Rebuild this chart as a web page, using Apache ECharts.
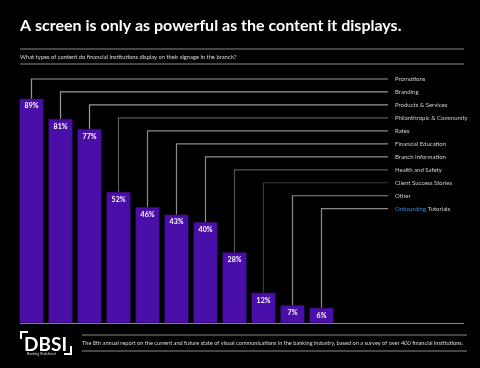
<!DOCTYPE html>
<html><head><meta charset="utf-8">
<script src="https://cdn.jsdelivr.net/npm/echarts@6/dist/echarts.min.js"></script>
<style>html,body{margin:0;padding:0;background:#000;}#c{width:480px;height:368px;}</style>
</head><body><div id="c"></div>
<script>
var categories = ['Promotions','Branding','Products & Services','Philanthropic & Community','Rates','Financial Education','Branch Information','Health and Safety','Client Success Stories','Other','Onboarding Tutorials'];
var values = [89,81,77,52,46,43,40,28,12,7,6];
var title = 'A screen is only as powerful as the content it displays.';
var subtitle = 'What types of content do financial institutions display on their signage in the branch?';
var footnote = 'The 8th annual report on the current and future state of visual communications in the banking industry, based on a survey of over 400 financial institutions.';

var lineShades = ['#9a9a9a','#9a9a9a','#9a9a9a','#5a5a5a','#8a8a8a','#8a8a8a','#8a8a8a','#555','#3a3a3a','#8a8a8a','#8a8a8a'];
var chart = echarts.init(document.getElementById('c'));
var FONT = 'Lato, "Open Sans", sans-serif';

chart.setOption({
  backgroundColor: '#000',
  animation: false,
  grid: {left: 17, right: 144, top: 71, bottom: 45},
  xAxis: {type: 'category', data: categories, axisLine: {show: false}, axisTick: {show: false}, axisLabel: {show: false}},
  yAxis: {type: 'value', min: 0, max: 100, show: false, splitLine: {show: false}},
  series: [
    {
      type: 'custom',
      z: 1,
      clip: false,
      data: values.map(function (v, i) { return [i, v]; }),
      renderItem: function (params, api) {
        var i = params.dataIndex;
        var top = api.coord([api.value(0), api.value(1)]);
        var ly = 79 + i * 12.97;
        var isLast = i === categories.length - 1;
        return {
          type: 'group',
          children: [
            {type: 'polyline', shape: {points: [[top[0], top[1]], [top[0], ly], [388, ly]]},
              style: {stroke: lineShades[i], lineWidth: 1.2, fill: null}},
            {type: 'text', x: 395, y: ly,
              style: isLast ? {
                text: '{b|Onboarding} Tutorials', verticalAlign: 'middle', fontFamily: FONT, fontSize: 6, fill: '#cfcfcf',
                rich: {b: {fill: '#3f86c8', fontFamily: FONT, fontSize: 6}}
              } : {text: categories[i], verticalAlign: 'middle', fontFamily: FONT, fontSize: 6, fill: '#cfcfcf'}}
          ]
        };
      }
    },
    {
      type: 'bar',
      z: 3,
      data: values,
      barWidth: 24,
      itemStyle: {color: '#4a0fa8', borderColor: '#3a0a88', borderWidth: 0.6},
      label: {show: true, position: 'insideTop', distance: 4, formatter: '{c}%', color: '#fff', fontFamily: FONT, fontWeight: 'bold', fontSize: 7}
    }
  ],
  graphic: [
    {type: 'text', left: 20, top: 18, style: {text: title, fill: '#fff', fontFamily: FONT, fontWeight: 'bold', fontSize: 16}},
    {type: 'line', shape: {x1: 20, y1: 49, x2: 464, y2: 49}, style: {stroke: '#8a8a8a', lineWidth: 1.2}},
    {type: 'text', x: 20, y: 57, style: {text: subtitle, fill: '#ddd', fontFamily: FONT, fontSize: 5.8, verticalAlign: 'middle'}},
    {type: 'line', shape: {x1: 20, y1: 64, x2: 464, y2: 64}, style: {stroke: '#8a8a8a', lineWidth: 1.2}},
    {type: 'line', shape: {x1: 20, y1: 323.5, x2: 464, y2: 323.5}, style: {stroke: '#8a8a8a', lineWidth: 1.2}},
    {type: 'line', shape: {x1: 82, y1: 335, x2: 467, y2: 335}, style: {stroke: '#8a8a8a', lineWidth: 1.2}},
    {type: 'text', x: 82, y: 343.5, style: {text: footnote, fill: '#ddd', fontFamily: FONT, fontSize: 5.62, verticalAlign: 'middle'}},
    {type: 'line', shape: {x1: 82, y1: 351, x2: 467, y2: 351}, style: {stroke: '#8a8a8a', lineWidth: 1.2}},
    {type: 'polyline', shape: {points: [[21, 339], [21, 332], [28, 332]]}, style: {stroke: '#fff', lineWidth: 2, fill: null}},
    {type: 'polyline', shape: {points: [[71, 346], [71, 354], [64, 354]]}, style: {stroke: '#fff', lineWidth: 2, fill: null}},
    {type: 'text', x: 24, y: 345, style: {text: 'DBSI', fill: '#fff', fontFamily: FONT, fontWeight: 'bold', fontSize: 19, verticalAlign: 'middle'}},
    {type: 'text', x: 27, y: 354, style: {text: 'Banking Redefined', fill: '#ddd', fontFamily: FONT, fontSize: 3.5, verticalAlign: 'middle'}}
  ]
});
</script></body></html>
